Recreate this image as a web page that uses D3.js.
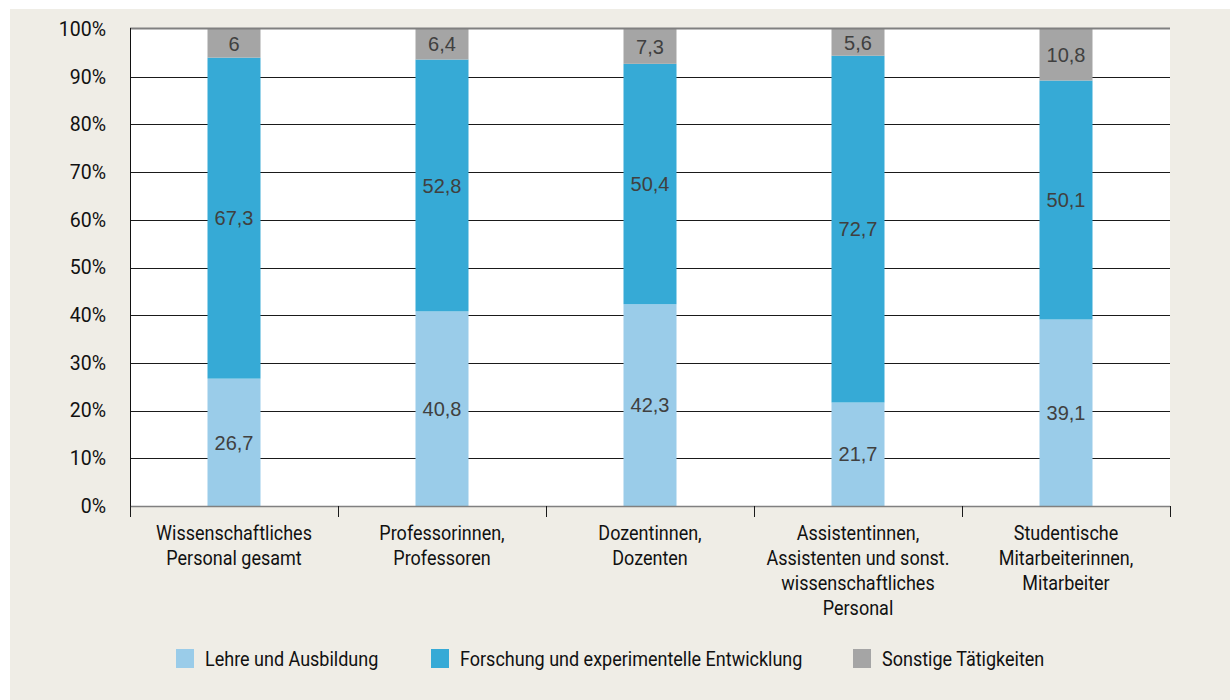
<!DOCTYPE html>
<html><head><meta charset="utf-8">
<script src="https://cdn.jsdelivr.net/npm/d3@7"></script>
<style>
html,body{margin:0;padding:0;background:#fff;}
svg{display:block;}
</style></head>
<body>
<svg id="chart" width="1230" height="700"></svg>
<script>
const categories = [
  ["Wissenschaftliches","Personal gesamt"],
  ["Professorinnen,","Professoren"],
  ["Dozentinnen,","Dozenten"],
  ["Assistentinnen,","Assistenten und sonst.","wissenschaftliches","Personal"],
  ["Studentische","Mitarbeiterinnen,","Mitarbeiter"]
];
const seriesNames = ["Lehre und Ausbildung","Forschung und experimentelle Entwicklung","Sonstige Tätigkeiten"];
const lehre = [26.7, 40.8, 42.3, 21.7, 39.1];
const forschung = [67.3, 52.8, 50.4, 72.7, 50.1];
const sonstige = [6, 6.4, 7.3, 5.6, 10.8];
const yTicks = [0,10,20,30,40,50,60,70,80,90,100];
const colors = ["#9acce9","#36aad6","#a5a5a5"];

(function(){
const condensed = "'Liberation Sans Narrow','Arial Narrow','Roboto',sans-serif";
const sx = 0.9;
const svg = d3.select("#chart");
svg.append("rect").attr("x",10).attr("y",9).attr("width",1220).attr("height",691).attr("fill","#efede6");

const pL=130, pR=1170, pT=29, pB=506;
const x = d3.scaleBand().domain(d3.range(categories.length)).range([pL,pR]).paddingInner(0).paddingOuter(0);
const y = d3.scaleLinear().domain([0,100]).range([pB,pT]);

svg.append("rect").attr("x",pL).attr("y",pT).attr("width",pR-pL).attr("height",pB-pT).attr("fill","#fff");

svg.append("g").selectAll("line").data(yTicks.filter(t=>t>0 && t<100)).join("line")
  .attr("x1",pL).attr("x2",pR).attr("y1",d=>Math.round(y(d))+0.5).attr("y2",d=>Math.round(y(d))+0.5)
  .attr("stroke","#1a1a1a").attr("stroke-width",1);

const rows = categories.map((c,i)=>({i, l:lehre[i], f:forschung[i], s:sonstige[i]}));
const vals = [lehre, forschung, sonstige];
const stack = d3.stack().keys(["l","f","s"])(rows);
const barW = 53;
const g = svg.append("g");
stack.forEach((layer,k)=>{
  g.selectAll(null).data(layer).join("rect")
    .attr("x",d=>x(d.data.i)+x.bandwidth()/2-barW/2)
    .attr("width",barW)
    .attr("y",d=>y(d[1]))
    .attr("height",d=>y(d[0])-y(d[1]))
    .attr("fill",colors[k]);
  g.selectAll(null).data(layer).join("text")
    .attr("x",d=>x(d.data.i)+x.bandwidth()/2)
    .attr("y",d=>(y(d[0])+y(d[1]))/2)
    .attr("dy","0.36em")
    .attr("text-anchor","middle")
    .attr("font-family","'Liberation Sans',Arial,sans-serif")
    .attr("font-size",20)
    .attr("fill","#404040")
    .text(d=>String(vals[k][d.data.i]).replace(".",","));
});

svg.append("line").attr("x1",pL).attr("x2",pR).attr("y1",pT-0.5).attr("y2",pT-0.5).attr("stroke","#808080").attr("stroke-width",2);
svg.append("line").attr("x1",pL).attr("x2",pR).attr("y1",pB+0.5).attr("y2",pB+0.5).attr("stroke","#808080").attr("stroke-width",1.5);
svg.append("line").attr("x1",pL+0.5).attr("x2",pL+0.5).attr("y1",pT-1).attr("y2",pB+1).attr("stroke","#111").attr("stroke-width",1);

svg.append("g").selectAll("text").data(yTicks).join("text")
  .attr("x",106).attr("y",d=>y(d)).attr("dy","0.35em").attr("text-anchor","end")
  .attr("font-family",condensed).attr("font-size",19.5).attr("fill","#111")
  .text(d=>d+"%");

const tickPos = d3.range(categories.length+1).map(i=>pL + i*x.bandwidth());
svg.append("g").selectAll("line").data(tickPos).join("line")
  .attr("x1",d=>Math.round(d)+0.5).attr("x2",d=>Math.round(d)+0.5).attr("y1",pB).attr("y2",pB+11)
  .attr("stroke","#1a1a1a").attr("stroke-width",1);

const cg = svg.append("g");
categories.forEach((lines,i)=>{
  const t = cg.append("g").attr("transform",`translate(${x(i)+x.bandwidth()/2},0) scale(${sx},1)`)
    .append("text").attr("text-anchor","middle")
    .attr("font-family",condensed).attr("font-size",20).attr("fill","#111");
  lines.forEach((ln,j)=>{
    t.append("tspan").attr("x",0).attr("y",533+j*25).attr("dy","0.35em").text(ln);
  });
});

const legX = [176,431,853];
const lg = svg.append("g");
seriesNames.forEach((n,k)=>{
  lg.append("rect").attr("x",legX[k]).attr("y",649).attr("width",18).attr("height",19).attr("fill",colors[k]);
  lg.append("g").attr("transform",`translate(${legX[k]+29},659) scale(${sx},1)`)
    .append("text").attr("x",0).attr("y",0).attr("dy","0.35em")
    .attr("font-family",condensed).attr("font-size",20).attr("fill","#111").text(n);
});
})();
</script>
</body></html>
